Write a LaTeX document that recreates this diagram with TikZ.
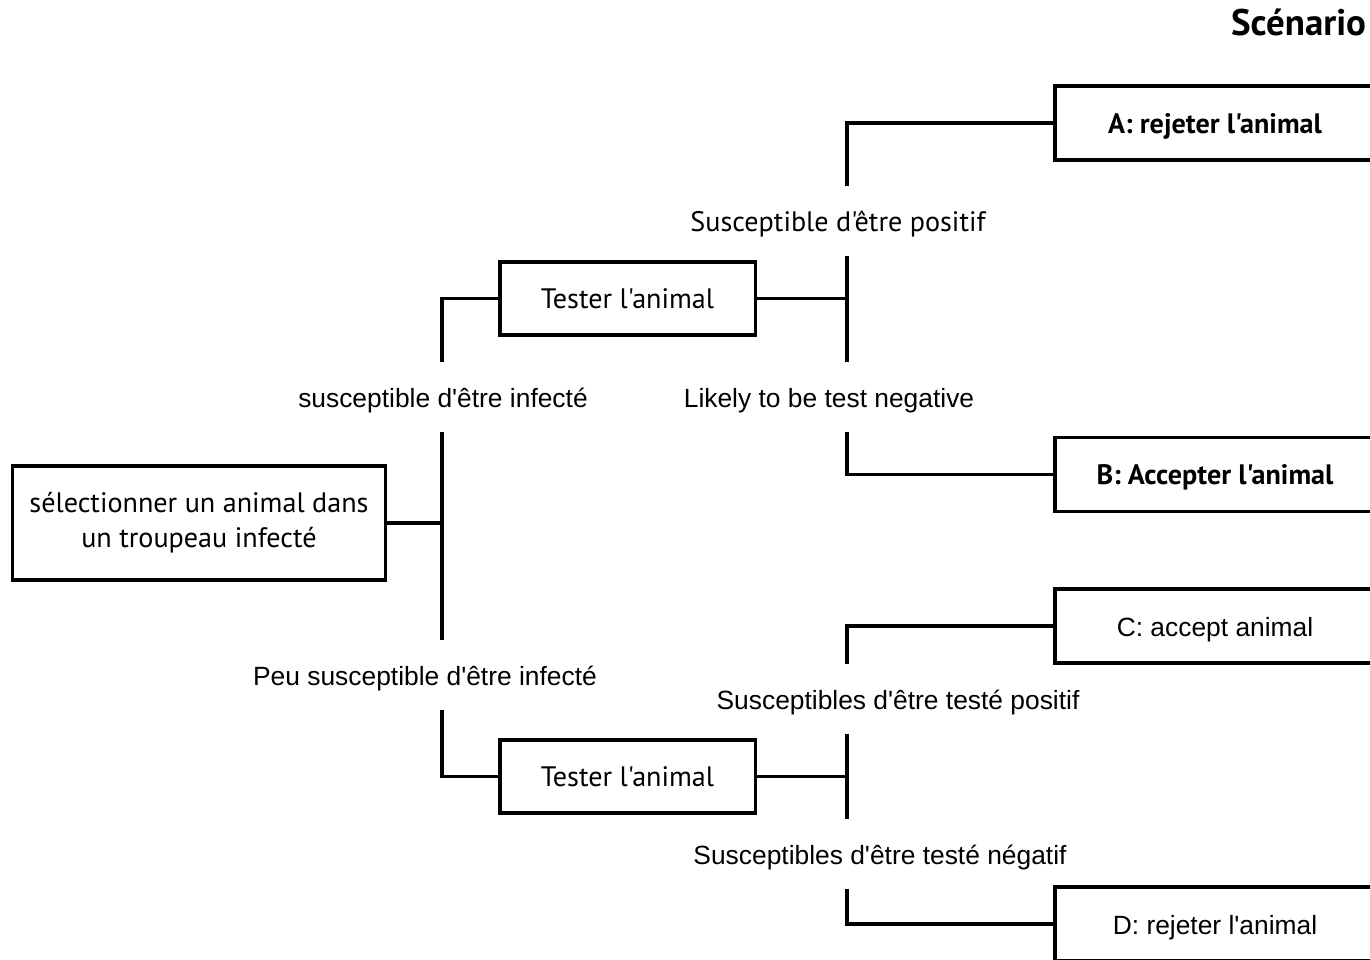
\documentclass[tikz,border=0pt]{standalone}
\usepackage{fontspec}
\newfontfamily\myr{PT Sans}
\newfontfamily\ari{Liberation Sans}
\begin{document}
\begin{tikzpicture}[x=0.01cm,y=-0.01cm,line width=0.9pt,outer sep=0pt,
  box/.style={draw,inner sep=0pt,font=\myr\fontsize{8}{10}\selectfont},
  endbox/.style={draw,inner sep=0pt,minimum width=3.2cm,minimum height=0.74cm,text height=0.26cm,text depth=0.06cm},
  lbl/.style={inner sep=0pt,minimum height=0.7cm,text height=0.26cm,text depth=0.06cm,font=\ari\fontsize{7.5}{9}\selectfont},
  lblm/.style={inner sep=0pt,minimum height=0.7cm,text height=0.26cm,text depth=0.06cm,font=\myr\fontsize{8}{10}\selectfont}]
  \useasboundingbox (0,0) rectangle (1370,959);
  \clip (0,0) rectangle (1370,959);

  \node [anchor=east,inner sep=0pt,font=\myr\bfseries\fontsize{10.5}{12}\selectfont] (title) at (1366,22) {Scénario};

  % boites
  \node [box,minimum width=3.72cm,minimum height=1.14cm,align=center] (root) at (199,523) {sélectionner un animal dans\\un troupeau infecté};
  \node [box,minimum width=2.55cm,minimum height=0.73cm] (t1) at (627.5,298.5) {Tester l'animal};
  \node [box,minimum width=2.55cm,minimum height=0.73cm] (t2) at (627.5,776.5) {Tester l'animal};
  \node [endbox,font=\myr\bfseries\fontsize{8}{10}\selectfont] (A) at (1215,123) {A: rejeter l'animal};
  \node [endbox,font=\myr\bfseries\fontsize{8}{10}\selectfont] (B) at (1215,474.5) {B: Accepter l'animal};
  \node [endbox,font=\ari\fontsize{7.5}{9}\selectfont] (C) at (1215,626) {C: accept animal};
  \node [endbox,font=\ari\fontsize{7.5}{9}\selectfont] (D) at (1215,924) {D: rejeter l'animal};

  % etiquettes
  \node [lblm] (pos) at (838,221) {Susceptible d'être positif};
  \node [lbl] (inf) at (443,397) {susceptible d'être infecté};
  \node [lbl] (neg) at (829,397) {Likely to be test negative};
  \node [lbl] (peu) at (425,675) {Peu susceptible d'être infecté};
  \node [lbl] (tpos) at (898,699) {Susceptibles d'être testé positif};
  \node [lbl] (tneg) at (880,854) {Susceptibles d'être testé négatif};

  \coordinate (lx) at (442,0);
  \coordinate (rx) at (847,0);

  % branches gauche
  \draw (root.east) -- (root.east -| lx);
  \draw (inf.south -| lx) -- (peu.north -| lx);
  \draw (t1.west) -| (inf.north -| lx);
  \draw (peu.south -| lx) |- (t2.west);

  % branches droite
  \draw (t1.east) -- (t1.east -| rx);
  \draw (A.west) -| (pos.north -| rx);
  \draw (pos.south -| rx) -- (neg.north -| rx);
  \draw (neg.south -| rx) |- (B.west);

  \draw (t2.east) -- (t2.east -| rx);
  \draw (C.west) -| (tpos.north -| rx);
  \draw (tpos.south -| rx) -- (tneg.north -| rx);
  \draw (tneg.south -| rx) |- (D.west);
\end{tikzpicture}
\end{document}
